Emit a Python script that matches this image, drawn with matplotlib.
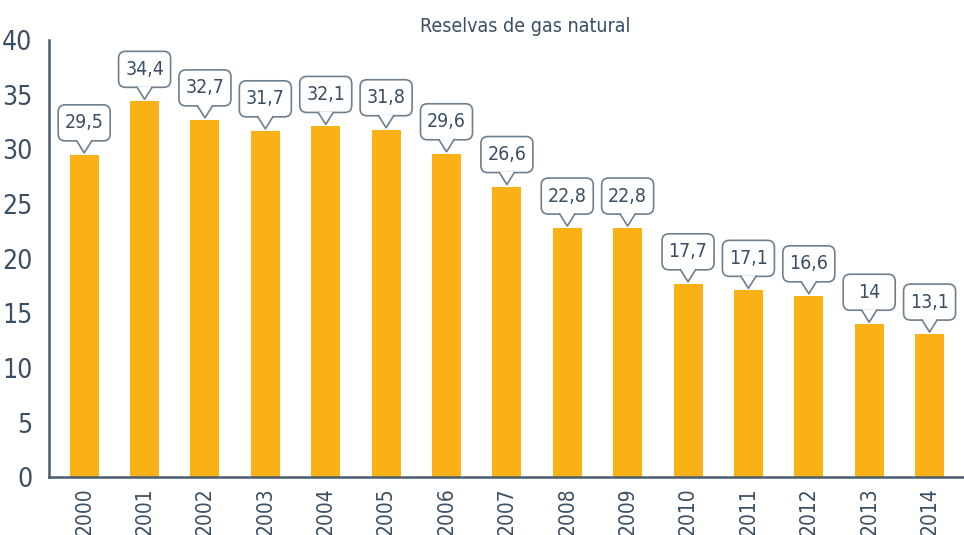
import matplotlib
matplotlib.use("Agg")
import matplotlib.pyplot as plt
from matplotlib.patches import FancyBboxPatch, Polygon
from matplotlib.lines import Line2D
from matplotlib.transforms import ScaledTranslation

years = ["2000", "2001", "2002", "2003", "2004", "2005", "2006", "2007",
         "2008", "2009", "2010", "2011", "2012", "2013", "2014"]
reserves = [29.5, 34.4, 32.7, 31.7, 32.1, 31.8, 29.6, 26.6,
            22.8, 22.8, 17.7, 17.1, 16.6, 14.0, 13.1]
labels = ["29,5", "34,4", "32,7", "31,7", "32,1", "31,8", "29,6", "26,6",
          "22,8", "22,8", "17,7", "17,1", "16,6", "14", "13,1"]

bar_color = "#FBB016"
text_color = "#3B4F63"
edge_color = "#6E7F8D"

plt.rcParams["font.family"] = ["DejaVu Sans"]
plt.rcParams["font.stretch"] = "condensed"

fig = plt.figure(figsize=(9.64, 5.35), dpi=100)
ax = fig.add_axes([0.051, 0.108, 0.949, 0.817])

x = list(range(len(years)))
ax.bar(x, reserves, width=0.48, color=bar_color, zorder=2)

ax.set_xlim(-0.58, 14.57)
ax.set_ylim(0, 40)
ax.set_yticks(range(0, 41, 5))
ax.set_xticks(x)
ax.set_xticklabels(years, rotation=90, fontsize=15, color=text_color)
ax.tick_params(axis="y", length=0, pad=12, labelsize=19, labelcolor=text_color)
ax.tick_params(axis="x", length=0, pad=7)

for side in ["top", "right"]:
    ax.spines[side].set_visible(False)
for side in ["left", "bottom"]:
    ax.spines[side].set_color("#4A5D6E")
    ax.spines[side].set_linewidth(1.8)

ax.set_title("Reselvas de gas natural", fontsize=14, color=text_color,
             x=0.52, pad=6)

# callout boxes above each bar, drawn in inches relative to the bar top
box_w, box_h = 0.52, 0.36
gap, tip_h, tip_hw = 0.02, 0.12, 0.075
for xi, v, lab in zip(x, reserves, labels):
    tr = fig.dpi_scale_trans + ScaledTranslation(xi, v, ax.transData)
    y0 = gap + tip_h
    box = FancyBboxPatch((-box_w / 2, y0), box_w, box_h,
                         boxstyle="round,pad=0,rounding_size=0.07",
                         fc="white", ec=edge_color, lw=1.2,
                         transform=tr, zorder=3, clip_on=False)
    ax.add_patch(box)
    tri = Polygon([(-tip_hw, y0 + 0.01), (0, gap), (tip_hw, y0 + 0.01)],
                  closed=True, fc="white", ec="none",
                  transform=tr, zorder=4, clip_on=False)
    ax.add_patch(tri)
    ax.add_line(Line2D([-tip_hw, 0, tip_hw], [y0, gap, y0], color=edge_color,
                       lw=1.2, transform=tr, zorder=5, clip_on=False))
    ax.text(0, y0 + box_h / 2, lab, ha="center", va="center", fontsize=14,
            color=text_color, transform=tr, zorder=6)

fig.savefig("out.png", dpi=100)
